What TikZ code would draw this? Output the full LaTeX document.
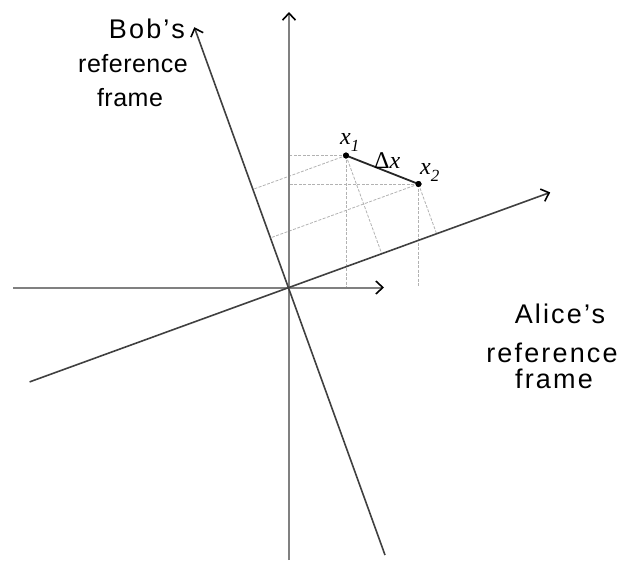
\documentclass[tikz,border=0pt]{standalone}
\usepackage{fontspec}
\setmainfont{Liberation Sans}
\newfontfamily\seriffont{Liberation Serif}
\usetikzlibrary{arrows.meta,calc}
\begin{document}
\begin{tikzpicture}[x=1pt,y=-1pt,
  aaxis/.style={draw=black!50, line width=2pt},
  baxis/.style={draw=black!75, line width=1.6pt},
  proj/.style={draw=black!30, line width=0.8pt, dash pattern=on 3pt off 1.5pt},
  tipped/.style={-{Straight Barb[length=7pt,width=13pt,line width=1.6pt,color=black]}},
  dot/.style={circle, fill=black, inner sep=0pt, minimum size=6pt},
  lbl/.style={font=\fontsize{27}{27}\selectfont\addfontfeatures{LetterSpace=8}, anchor=base, inner sep=0pt},
  blbl/.style={font=\fontsize{25}{25}\selectfont\addfontfeatures{LetterSpace=2}, anchor=base, inner sep=0pt},
  mlbl/.style={font=\seriffont\itshape\fontsize{24}{24}\selectfont, anchor=base west, inner sep=0pt},
  seg/.style={draw=black!85, line width=1.8pt}]
\useasboundingbox (0,0) rectangle (626,563);
% axes end points
\coordinate (O) at (289,287.5);
\coordinate (aL) at (13,287.5);
\coordinate (aR) at (384,287.5);
\coordinate (aB) at (289,560);
\coordinate (aT) at (289,12);
\coordinate (bL) at (29.6,381.9);
\coordinate (bR) at (550.2,192.4);
\coordinate (bT) at (194.3,27.2);
\coordinate (bB) at (385,555);
% events
\node[dot] (x1) at (346,155.5) {};
\node[dot] (x2) at (418.5,184) {};
% projections
\coordinate (p1a) at ($(O)!(x1.center)!(aT)$);
\coordinate (p1b) at ($(O)!(x1.center)!(aR)$);
\coordinate (p2a) at ($(O)!(x2.center)!(aT)$);
\coordinate (p2b) at ($(O)!(x2.center)!(aR)$);
\coordinate (q1a) at ($(O)!(x1.center)!(bT)$);
\coordinate (q1b) at ($(O)!(x1.center)!(bR)$);
\coordinate (q2a) at ($(O)!(x2.center)!(bT)$);
\coordinate (q2b) at ($(O)!(x2.center)!(bR)$);
\draw[proj] (x1.center) -- (p1a) (x1.center) -- (p1b) (x2.center) -- (p2a) (x2.center) -- (p2b);
\draw[proj] (x1.center) -- (q1a) (x1.center) -- (q1b) (x2.center) -- (q2a) (x2.center) -- (q2b);
% Alice axes
\draw[aaxis,tipped] (aL) -- (aR);
\draw[aaxis,tipped] (aB) -- (aT);
% Bob axes
\draw[baxis,tipped] (bL) -- (bR);
\draw[baxis,tipped] (bB) -- (bT);
% interval
\draw[seg] (x1.center) -- (x2.center);
\node[dot] at (x1) {};
\node[dot] at (x2) {};
% labels
\node[mlbl] (l1) at (340,144) {x\raisebox{-7pt}{\fontsize{17}{17}\selectfont 1}};
\node[mlbl] (l2) at (420,174) {x\raisebox{-7pt}{\fontsize{17}{17}\selectfont 2}};
\node[mlbl] (ld) at (374,168) {\upshape Δ\itshape x};
\node[lbl] (b1) at (147,38) {Bob’\kern2pt s};
\node[blbl] (b2) at (133,72) {reference};
\node[blbl] (b3) at (130,106) {frame};
\node[lbl] (a1) at (560,323) {Alice’s};
\node[lbl] (a2) at (552,362) {reference};
\node[lbl] (a3) at (554,388) {frame};
\end{tikzpicture}
\end{document}
